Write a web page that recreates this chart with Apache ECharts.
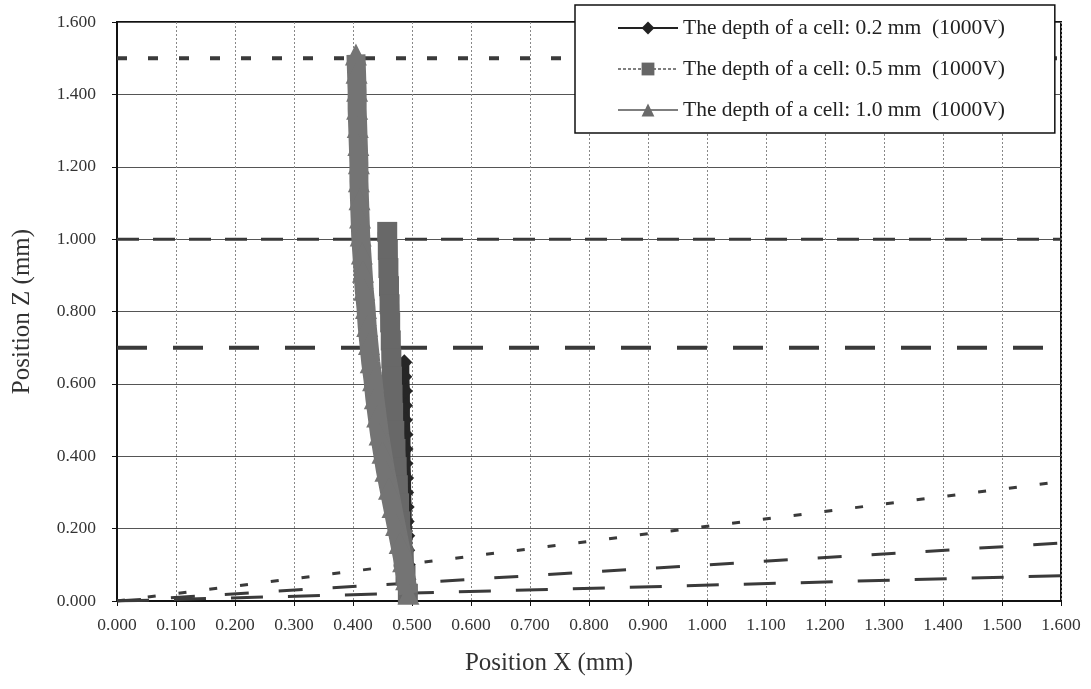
<!DOCTYPE html>
<html>
<head>
<meta charset="utf-8">
<script src="https://cdn.jsdelivr.net/npm/echarts@6/dist/echarts.min.js"></script>
<style>
html,body{margin:0;padding:0;background:#fff;}
#c{width:1091px;height:689px;}
</style>
</head>
<body>
<div id="c"></div>
<script>
// Series names
var seriesNames = [
  'The depth of a cell: 0.2 mm  (1000V)',
  'The depth of a cell: 0.5 mm  (1000V)',
  'The depth of a cell: 1.0 mm  (1000V)'
];
// Trajectories [x, z] (mm)
var depth02 = [[0.487,0.66],[0.487,0.62],[0.488,0.58],[0.488,0.54],[0.488,0.50],[0.489,0.46],[0.489,0.42],[0.489,0.38],[0.490,0.34],[0.490,0.30],[0.491,0.26],[0.491,0.22],[0.492,0.18],[0.492,0.14],[0.493,0.10],[0.494,0.06],[0.495,0.02]];
var depth05 = [[0.458,1.02],[0.459,0.97],[0.460,0.92],[0.461,0.87],[0.462,0.82],[0.463,0.77],[0.464,0.72],[0.465,0.67],[0.466,0.62],[0.467,0.57],[0.468,0.52],[0.470,0.47],[0.472,0.42],[0.474,0.37],[0.476,0.32],[0.478,0.27],[0.480,0.22],[0.483,0.17],[0.486,0.12],[0.489,0.07],[0.493,0.02]];
var depth10 = [[0.405,1.51],[0.406,1.46],[0.407,1.41],[0.407,1.36],[0.408,1.31],[0.409,1.26],[0.410,1.21],[0.410,1.16],[0.411,1.11],[0.412,1.06],[0.413,1.01],[0.415,0.96],[0.417,0.91],[0.419,0.86],[0.422,0.81],[0.424,0.76],[0.427,0.71],[0.430,0.66],[0.434,0.61],[0.437,0.56],[0.441,0.51],[0.445,0.46],[0.450,0.41],[0.455,0.36],[0.461,0.31],[0.467,0.26],[0.473,0.21],[0.479,0.16],[0.485,0.11],[0.490,0.06],[0.494,0.02]];
// Dashed boundary / field lines [x, z]
var top02 = [[0,0.70],[1.6,0.70]];
var top05 = [[0,1.00],[1.6,1.00]];
var top10 = [[0,1.50],[1.6,1.50]];
var low02 = [[0,0],[1.6,0.07]];
var low05 = [[0,0],[1.6,0.16]];
var low10 = [[0,0],[1.6,0.33]];
// Axis ranges
var xMin = 0, xMax = 1.6, xStep = 0.1;
var yMin = 0, yMax = 1.6, yStep = 0.2;

var serif = 'Liberation Serif, Times New Roman, serif';
var chart = echarts.init(document.getElementById('c'), null, {renderer:'canvas'});

function dashSeries(data, dash, width){
  return {type:'line', data:data, symbol:'none', silent:true, z:1,
    lineStyle:{color:'#3a3a3a', width:width, type:dash}, animation:false};
}

chart.setOption({
  backgroundColor:'#fff',
  animation:false,
  grid:{left:117, right:30, top:22, bottom:88, show:true, borderColor:'#111', borderWidth:2, backgroundColor:'#fff'},
  legend:{
    orient:'vertical', left:575, top:5,
    padding:[12,50,12,42], itemGap:19, itemWidth:60, itemHeight:16,
    backgroundColor:'#fff', borderColor:'#111', borderWidth:1.5,
    textStyle:{fontFamily:serif, fontSize:21.5, color:'#222'},
    data:[
      {name:seriesNames[0], lineStyle:{width:2, color:'#222', type:'solid'}, itemStyle:{color:'#222'}},
      {name:seriesNames[1], lineStyle:{width:1.5, color:'#555', type:[3,2]}, itemStyle:{color:'#666'}},
      {name:seriesNames[2], lineStyle:{width:1.5, color:'#555', type:'solid'}, itemStyle:{color:'#6a6a6a'}}
    ]
  },
  xAxis:{
    type:'value', min:xMin, max:xMax, interval:xStep,
    name:'Position X (mm)', nameLocation:'middle', nameGap:50,
    nameTextStyle:{fontFamily:serif, fontSize:25, color:'#333', padding:[0,80,0,0]},
    axisLine:{show:true, lineStyle:{color:'#111', width:2}},
    axisTick:{show:true, length:5, lineStyle:{color:'#111'}},
    axisLabel:{fontFamily:serif, fontSize:17.5, color:'#333', margin:15, formatter:function(v){return v.toFixed(3);}},
    splitLine:{show:true, lineStyle:{color:'#888', width:1, type:[2,2]}}
  },
  yAxis:{
    type:'value', min:yMin, max:yMax, interval:yStep,
    name:'Position Z (mm)', nameLocation:'middle', nameGap:82,
    nameTextStyle:{fontFamily:serif, fontSize:25, color:'#333'},
    axisLine:{show:true, lineStyle:{color:'#111', width:2}},
    axisTick:{show:true, length:5, lineStyle:{color:'#111'}},
    axisLabel:{fontFamily:serif, fontSize:17.5, color:'#333', margin:21, formatter:function(v){return v.toFixed(3);}},
    splitLine:{show:true, lineStyle:{color:'#555', width:1}}
  },
  series:[
    dashSeries(top10, [10,21], 4),
    dashSeries(top05, [22,14], 3),
    dashSeries(top02, [30,26], 4),
    dashSeries(low10, [8,23], 3),
    dashSeries(low05, [24,30], 3),
    dashSeries(low02, [32,25], 3),
    {name:seriesNames[0], type:'line', data:depth02, symbol:'diamond', symbolSize:16, z:3,
     lineStyle:{width:10, color:'#262626'}, itemStyle:{color:'#262626'}},
    {name:seriesNames[1], type:'line', data:depth05, symbol:'rect', symbolSize:20, z:4,
     lineStyle:{width:19, color:'#686868'}, itemStyle:{color:'#686868'}},
    {name:seriesNames[2], type:'line', data:depth10, symbol:'triangle', symbolSize:22, z:5,
     lineStyle:{width:19, color:'#747474'}, itemStyle:{color:'#747474'}}
  ]
});
</script>
</body>
</html>
